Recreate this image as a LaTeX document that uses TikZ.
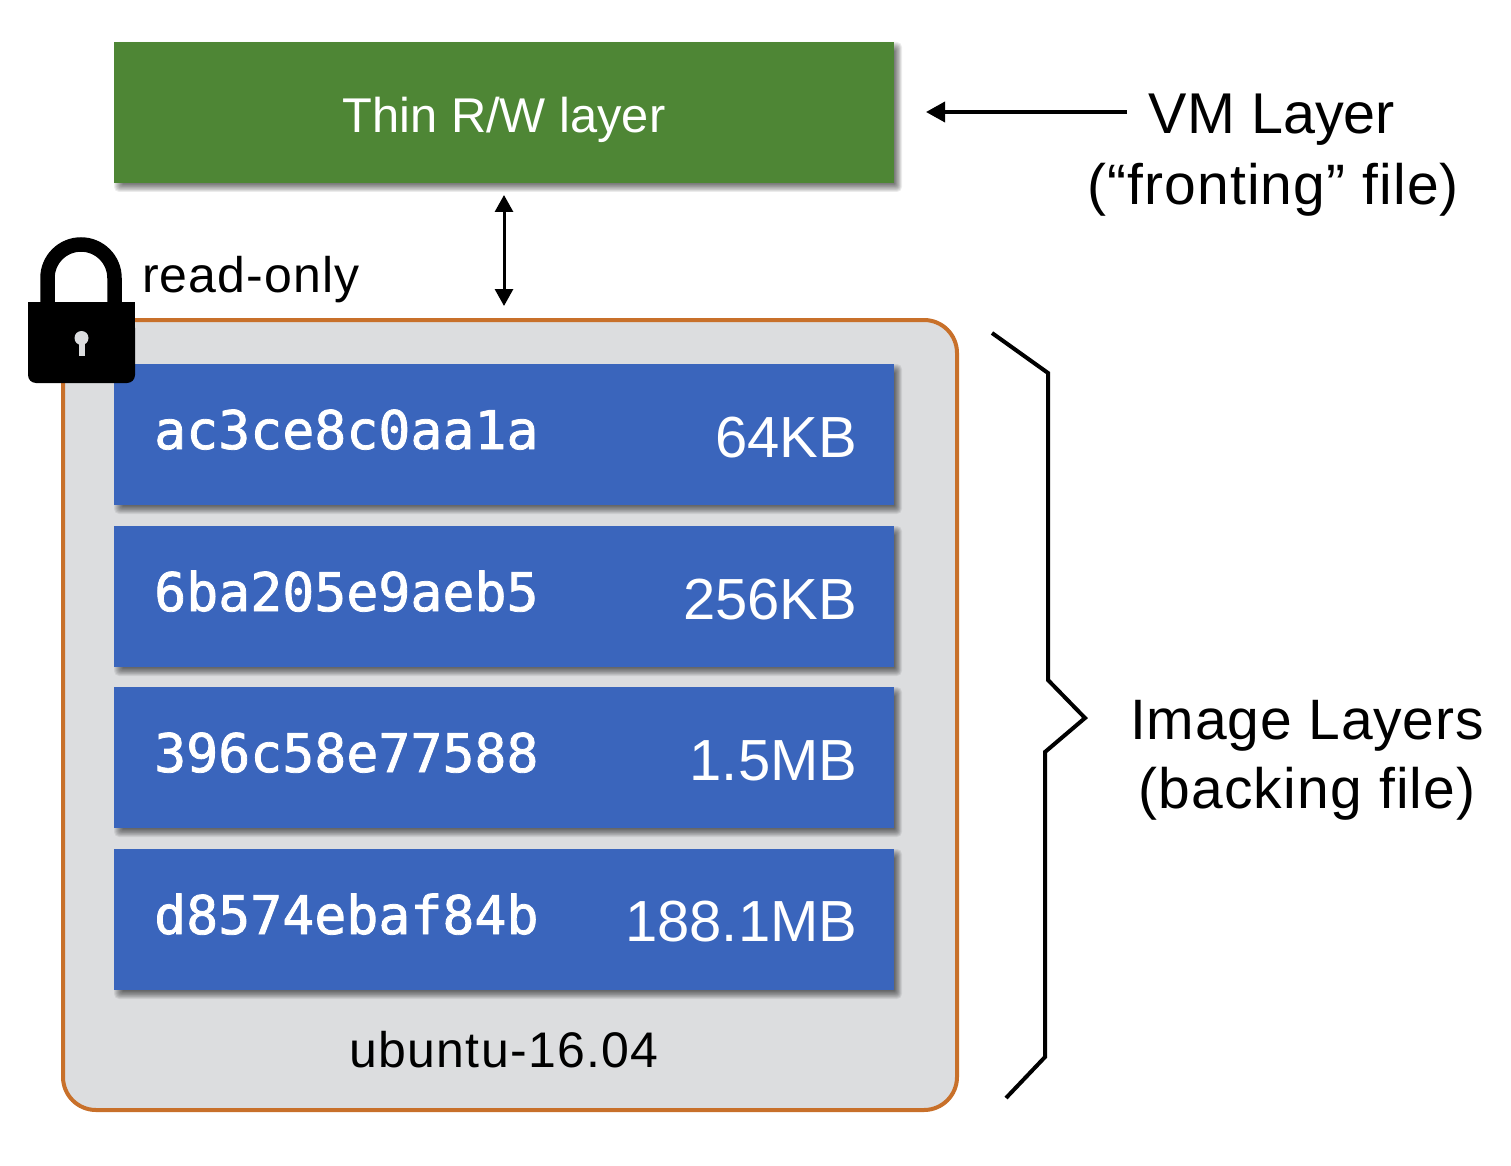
\documentclass[tikz,border=0pt]{standalone}
\usepackage{fontspec}
\setmainfont{Liberation Sans}
\setmonofont[FakeBold=1.5]{DejaVu Sans Mono}
\usetikzlibrary{arrows.meta}
\definecolor{gbox}{HTML}{4E8635}
\definecolor{bbox}{HTML}{3A65BC}
\definecolor{frameC}{HTML}{C8702A}
\definecolor{frameF}{HTML}{DCDDDF}
\newcommand{\softshadow}[4]{%
  \foreach \w in {10,9,8,7,6,5,4,3,2,1}{
    \fill[black,opacity=0.07,rounded corners=\w*0.5pt] (#1+10-\w,#2+10-\w) rectangle (#3+\w*0.8,#4+\w*0.9);
  }%
}
\newcommand{\spaced}[1]{\addfontfeatures{LetterSpace=#1}}
\tikzset{
  x=1pt,y=-1pt,
  layerbox/.style={inner sep=0pt,outer sep=0pt,minimum width=780pt,minimum height=141pt},
  hash/.style={anchor=base west,inner sep=0pt,text=white,font=\ttfamily\fontsize{53.2}{53}\selectfont},
  sizetxt/.style={anchor=base east,inner sep=0pt,text=white,font=\fontsize{58}{58}\selectfont},
  label/.style={anchor=base,inner sep=0pt,font=\fontsize{57}{60}\selectfont},
  arrowline/.style={black,line width=3.6pt},
}
\begin{document}
\begin{tikzpicture}
\useasboundingbox (0,0) rectangle (1511,1166);
% container
\node[inner sep=0pt,outer sep=0pt,minimum width=894pt,minimum height=790pt,draw=frameC,fill=frameF,line width=4pt,rounded corners=33pt] (frame) at (510,715) {};
% green
\softshadow{114}{42}{894}{183}
\node[layerbox,fill=gbox] (thin) at (504,112.5) {};
\node[anchor=base,inner sep=0pt,text=white,font=\fontsize{48.8}{50}\selectfont] (thintxt) at (504,133) {Thin R/W layer};
% layers
\softshadow{114}{364}{894}{505}
\node[layerbox,fill=bbox] (l1) at (504,434.5) {};
\softshadow{114}{526}{894}{667}
\node[layerbox,fill=bbox] (l2) at (504,596.5) {};
\softshadow{114}{687}{894}{828}
\node[layerbox,fill=bbox] (l3) at (504,757.5) {};
\softshadow{114}{849}{894}{990}
\node[layerbox,fill=bbox] (l4) at (504,919.5) {};
\node[hash] (h1) at (154,449) {ac3ce8c0aa1a};
\node[hash] (h2) at (154,611) {6ba205e9aeb5};
\node[hash] (h3) at (154,772) {396c58e77588};
\node[hash] (h4) at (154,934) {d8574ebaf84b};
\node[sizetxt] (s1) at (857.5,457) {64KB};
\node[sizetxt] (s2) at (857.5,619) {256KB};
\node[sizetxt] (s3) at (857.5,780) {1.5MB};
\node[sizetxt] (s4) at (857.5,941) {188.1MB};
\node[anchor=base,inner sep=0pt,font=\fontsize{50}{50}\selectfont\spaced{2.5}] (ubuntu) at (504,1067) {ubuntu-16.04};
% lock
\draw[black,line width=14.5pt] (47.5,305) -- (47.5,278) arc[start angle=180,end angle=0,radius=33.5pt] -- (114.5,305);
\fill[black,rounded corners=8pt] (28,320) -- (28,383) -- (135,383) -- (135,320) [sharp corners] -- cycle;
\fill[black] (28,302) rectangle (135,345);
\fill[frameF] (81.5,338) circle[radius=7pt];
\fill[frameF] (78.5,338) rectangle (84.5,356);
\node[anchor=base west,inner sep=0pt,font=\fontsize{50}{50}\selectfont\spaced{2.2}] (ro) at (142,292) {read-only};
% arrows
\coordinate (tail) at (1127,112);
\coordinate (tip) at (926,112);
\draw[arrowline,-{Triangle[length=19pt,width=20pt]}] (tail) -- (tip);
\coordinate (da) at (504,195);
\coordinate (db) at (504,306);
\draw[black,line width=3pt,{Triangle[length=17pt,width=18pt]}-{Triangle[length=17pt,width=18pt]}] (da) -- (db);
% brace
\draw[black,line width=4pt,miter limit=10] (992,333) -- (1048,373) -- (1048,680) -- (1085,718) -- (1045,752) -- (1045,1057) -- (1006,1098);
% labels
\node[label,font=\fontsize{57.5}{60}\selectfont] (vm) at (1272,134) {VM Layer};
\node[label,font=\fontsize{57}{60}\selectfont\spaced{2}] (fr) at (1273,205) {(“fronting” file)};
\node[label,font=\fontsize{57}{60}\selectfont\spaced{1.5}] (im) at (1307,739) {Image Layers};
\node[label,font=\fontsize{57}{60}\selectfont\spaced{2.1}] (bk) at (1307,808) {(backing file)};
\end{tikzpicture}
\end{document}
